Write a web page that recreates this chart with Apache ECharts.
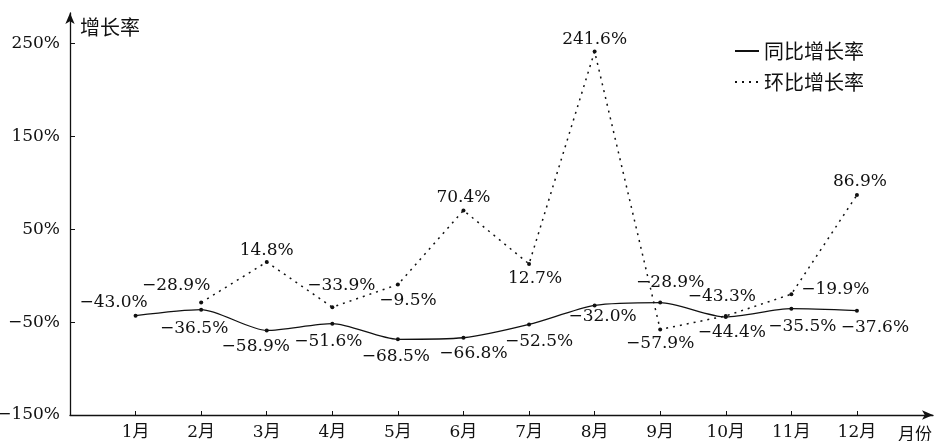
<!DOCTYPE html>
<html>
<head>
<meta charset="utf-8">
<script src="https://cdn.jsdelivr.net/npm/echarts@6/dist/echarts.min.js"></script>
<style>html,body{margin:0;padding:0;background:#fff;}#c{width:936px;height:441px;}</style>
</head>
<body>
<div id="c"></div>
<script>
const months = ['1月','2月','3月','4月','5月','6月','7月','8月','9月','10月','11月','12月'];
const yoyName = '同比增长率';
const momName = '环比增长率';
const yoy = [-43.0, -36.5, -58.9, -51.6, -68.5, -66.8, -52.5, -32.0, -28.9, -44.4, -35.5, -37.6];
const mom = [null, -28.9, 14.8, -33.9, -9.5, 70.4, 12.7, 241.6, -57.9, -43.3, -19.9, 86.9];
const yTicks = [-150, -50, 50, 150, 250];

const yoyOffsets = [[-22,-13],[-7,19],[-11,16],[-4,18],[-2,17],[10,16],[10,17],[8,11],[10,-20],[6,16],[11,18],[18,17]];
const momOffsets = [null,[-25,-17],[0,-11],[9,-22],[10,16],[0,-13],[6,15],[0,-12],[0,14],[-4,-19],[44,-5],[3,-13]];

const serif = '"DejaVu Serif","Liberation Serif","Noto Sans CJK SC",serif';
const cjk = '"Noto Sans CJK SC","DejaVu Serif",sans-serif';
const ink = '#111';

function pct(v){ return (v < 0 ? '\u2212' + Math.abs(v).toFixed(1) : v.toFixed(1)) + '%'; }
function tickPct(v){ return (v < 0 ? '\u2212' + Math.abs(v) : v) + '%'; }

function buildData(vals, offs){
  const out = [];
  vals.forEach((v, i) => {
    if (v === null) return;
    out.push({ value: [i + 1, v], label: { offset: offs[i] } });
  });
  return out;
}

const chart = echarts.init(document.getElementById('c'), null, {renderer: 'canvas'});
chart.setOption({
  animation: false,
  backgroundColor: '#fff',
  grid: { left: 70, right: 3, top: 13, bottom: 26, containLabel: false, outerBoundsMode: 'none' },
  legend: {
    orient: 'vertical', left: 729, top: 36, itemWidth: 24, itemHeight: 10, itemGap: 11,
    data: [yoyName, momName],
    itemStyle: { opacity: 0 },
    textStyle: { fontSize: 20, color: ink, fontFamily: cjk }
  },
  xAxis: {
    type: 'value', min: 0, max: 13.16, interval: 1,
    name: '月份', nameLocation: 'end', nameGap: -18,
    nameTextStyle: { fontSize: 17, color: ink, fontFamily: cjk, align: 'center', verticalAlign: 'top', padding: [10, 0, 0, 0] },
    axisLine: { show: true, onZero: false, lineStyle: { color: ink, width: 1.3 }, symbol: ['none', 'arrow'], symbolSize: [7, 11] },
    axisTick: { show: true, inside: true, length: 4, lineStyle: { color: ink }, customValues: [1,2,3,4,5,6,7,8,9,10,11,12] },
    axisLabel: { margin: 9, fontSize: 17, color: ink, fontFamily: serif, customValues: [1,2,3,4,5,6,7,8,9,10,11,12], formatter: v => months[Math.round(v) - 1] || '' },
    splitLine: { show: false }
  },
  yAxis: {
    type: 'value', min: -150, max: 283, interval: 50,
    name: '增长率', nameLocation: 'end', nameGap: -4,
    nameTextStyle: { fontSize: 20, color: ink, fontFamily: cjk, align: 'left', verticalAlign: 'top', padding: [0, 0, 0, 10] },
    axisLine: { show: true, onZero: false, lineStyle: { color: ink, width: 1.3 }, symbol: ['none', 'arrow'], symbolSize: [7, 11] },
    axisTick: { show: true, inside: true, length: 5, lineStyle: { color: ink }, customValues: yTicks },
    axisLabel: { margin: 10, fontSize: 17, color: ink, fontFamily: serif, customValues: yTicks, formatter: tickPct },
    splitLine: { show: false }
  },
  series: [
    {
      name: yoyName, type: 'line', smooth: 0.25,
      data: buildData(yoy, yoyOffsets),
      symbol: 'circle', symbolSize: 4,
      itemStyle: { color: ink },
      lineStyle: { color: ink, width: 1.3, type: 'solid' },
      label: { show: true, position: 'inside', formatter: p => pct(p.value[1]), fontSize: 17, color: ink, fontFamily: serif }
    },
    {
      name: momName, type: 'line',
      data: buildData(mom, momOffsets),
      symbol: 'circle', symbolSize: 4,
      itemStyle: { color: ink },
      lineStyle: { color: ink, width: 1.5, type: [2, 5] },
      label: { show: true, position: 'inside', formatter: p => pct(p.value[1]), fontSize: 17, color: ink, fontFamily: serif }
    }
  ]
});
</script>
</body>
</html>
